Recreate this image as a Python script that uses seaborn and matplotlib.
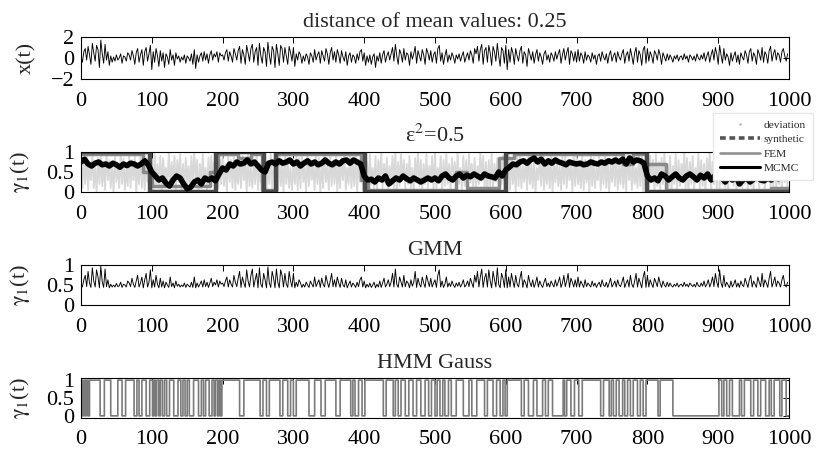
import numpy as np
import pandas as pd
import matplotlib
matplotlib.use("Agg")
import matplotlib.pyplot as plt
from matplotlib.lines import Line2D
import seaborn as sns

# ---- data ----
# x(t), sampled every 2 steps
x_t = [
    0.2,-0.4,0.6,0.9,-0.2,1.1,0.3,-0.6,1.4,0.5,-0.3,1.2,0.8,-0.9,1.7,0.4,-0.5,1.3,-0.2,0.6,-0.7,0.2,-0.4,0.1,-0.3,0.3,-0.2,0.0,0.4,-0.5,0.2,0.1,-0.3,0.5,0.3,-0.2,0.7,0.2,-0.6,0.5,0.9,-0.4,0.3,0.8,-0.7,0.6,1.0,-0.3,0.4,1.2,
    -1.1,0.6,-0.4,0.9,0.2,-0.8,0.7,-0.3,0.5,-0.9,0.4,0.1,-0.6,0.8,-0.2,0.3,-0.7,0.5,-0.1,0.2,-0.4,0.1,-0.2,0.3,-0.5,0.2,0.0,-0.3,0.4,-0.6,0.8,-1.0,0.3,-0.4,0.2,0.5,-0.3,0.6,-0.2,0.4,-0.5,0.3,0.7,-0.2,0.4,0.1,0.6,-0.4,0.5,0.2,
    0.3,-0.2,0.5,0.8,-0.3,0.6,0.2,-0.4,0.9,0.4,-0.2,0.7,1.1,-0.5,0.8,0.3,-0.6,1.2,0.5,-0.3,0.9,1.3,-0.4,0.6,1.0,-0.7,1.4,0.2,-0.5,1.0,0.6,-0.8,1.5,0.3,-0.6,1.1,0.7,-0.9,1.3,0.4,-0.7,1.2,0.9,-0.4,1.0,0.2,-0.6,1.1,0.5,-0.3,
    1.0,-0.8,0.4,-0.2,0.6,0.3,-0.5,0.2,-0.3,0.4,0.1,-0.6,0.5,0.2,-0.4,0.8,-0.2,0.3,0.6,-0.5,0.7,0.2,-0.3,0.9,0.4,-0.6,0.5,1.0,-0.2,0.6,-0.4,0.8,0.3,-0.5,0.7,0.1,-0.3,0.6,-0.7,0.2,0.5,-0.4,0.3,0.1,-0.5,0.4,-0.2,0.6,0.8,-0.3,
    0.5,-0.7,0.2,-0.4,0.3,-0.6,0.1,0.4,-0.9,0.2,-0.3,0.5,-0.5,0.3,0.7,-0.4,0.2,0.6,-0.2,0.4,1.0,-0.3,1.3,0.2,-0.6,0.8,0.4,-0.4,0.9,-0.2,0.5,0.3,-0.7,0.6,-0.1,0.4,1.1,-0.5,0.7,0.2,-0.3,0.8,0.3,-0.6,0.9,0.5,-0.2,0.7,-0.4,0.3,
    0.6,-0.5,0.9,1.2,-0.3,0.5,-0.6,0.2,0.8,-0.4,0.3,-0.2,0.5,0.1,-0.5,0.3,-0.1,0.4,-0.3,0.2,0.6,-0.4,0.1,0.5,-0.2,0.7,0.3,-0.5,0.9,0.4,1.1,-0.3,0.8,1.3,-0.6,0.7,1.0,-0.4,1.2,0.5,-0.7,1.1,0.6,-0.3,1.4,0.2,-0.8,1.0,0.7,-0.5,
    1.2,-1.1,0.8,-0.4,1.0,0.5,-0.6,0.9,0.2,-0.3,0.7,1.1,-0.5,0.6,0.3,-0.8,0.9,0.4,-0.2,0.6,-0.5,0.3,0.8,-0.3,0.5,0.1,-0.6,0.4,0.7,-0.2,0.3,-0.4,0.5,0.2,-0.3,0.6,-0.1,0.4,0.8,-0.5,0.3,0.9,-0.2,0.5,1.0,-0.6,0.7,0.4,-0.3,0.6,
    -0.4,0.8,-0.3,0.5,0.2,-0.5,0.6,-0.2,0.3,0.1,-0.4,0.5,-0.1,0.3,-0.6,0.2,0.4,-0.3,0.6,0.1,-0.2,0.4,-0.5,0.3,0.7,-0.3,0.2,0.5,-0.4,0.6,0.1,-0.2,0.4,0.8,-0.5,0.3,0.6,-0.3,0.9,0.2,-0.6,0.5,1.0,-0.4,0.7,0.3,-0.7,0.8,1.1,-0.5,
    0.9,-0.3,0.6,0.2,-0.5,0.7,0.4,-0.2,0.8,0.3,-0.6,0.5,0.1,-0.3,0.4,-0.2,0.3,0.0,-0.4,0.2,-0.1,0.3,-0.3,0.1,0.2,-0.2,0.4,-0.1,0.2,-0.4,0.3,0.1,-0.2,0.2,-0.3,0.4,0.0,-0.2,0.3,-0.1,0.5,-0.3,0.2,0.6,-0.4,0.3,0.8,-0.2,1.0,0.4,
    -0.6,1.2,0.3,-0.5,0.9,-0.2,0.4,0.1,-0.7,0.5,-0.3,0.2,0.6,-0.4,0.3,-0.6,0.5,0.1,-0.2,0.7,0.3,-0.5,0.6,0.9,-0.3,0.5,0.2,-0.6,0.8,0.4,-0.2,1.0,-0.4,0.6,0.3,-0.5,0.7,1.1,-0.3,0.4,0.8,-0.2,0.5,0.3,-0.4,0.6,0.9,0.2,-0.3,0.4,
]

# GMM gamma_1(t), every 2 steps
gmm = [
    .52,.45,.63,.74,.46,.84,.55,.44,.93,.6,.45,.88,.7,.43,.97,.58,.44,.9,.46,.63,.43,.52,.45,.5,.45,.54,.46,.48,.57,.44,.52,.5,.45,.6,.55,.46,.67,.52,.44,.6,.74,.45,.55,.7,.43,.63,.79,.45,.57,.88,
    .43,.63,.45,.74,.52,.43,.67,.45,.6,.43,.57,.5,.44,.7,.46,.55,.43,.6,.47,.52,.45,.5,.46,.55,.44,.52,.48,.45,.57,.44,.7,.43,.55,.45,.52,.6,.45,.63,.46,.57,.44,.55,.67,.46,.57,.5,.63,.45,.6,.52,
    .55,.46,.6,.7,.45,.63,.52,.45,.74,.57,.46,.67,.84,.44,.7,.55,.44,.88,.6,.45,.74,.9,.45,.63,.79,.43,.93,.52,.44,.79,.63,.43,.95,.55,.44,.84,.67,.43,.9,.57,.43,.88,.74,.45,.79,.52,.44,.84,.6,.45,
    .79,.43,.57,.46,.63,.55,.44,.52,.45,.57,.5,.44,.6,.52,.45,.7,.46,.55,.63,.44,.67,.52,.45,.74,.57,.44,.6,.79,.46,.63,.45,.7,.55,.44,.67,.5,.45,.63,.43,.52,.6,.45,.55,.5,.44,.57,.46,.63,.7,.45,
    .6,.43,.52,.45,.55,.44,.5,.57,.43,.52,.45,.6,.44,.55,.67,.45,.52,.63,.46,.57,.79,.45,.9,.52,.44,.7,.57,.45,.74,.46,.6,.55,.43,.63,.47,.57,.84,.44,.67,.52,.45,.7,.55,.44,.74,.6,.46,.67,.45,.55,
    .63,.44,.74,.88,.45,.6,.44,.52,.7,.45,.55,.46,.6,.5,.44,.55,.47,.57,.45,.52,.63,.45,.5,.6,.46,.67,.55,.44,.74,.57,.84,.45,.7,.9,.44,.67,.79,.45,.88,.6,.43,.84,.63,.45,.93,.52,.43,.79,.67,.44,
    .88,.43,.7,.45,.79,.6,.44,.74,.52,.45,.67,.84,.44,.63,.55,.43,.74,.57,.46,.63,.44,.55,.7,.45,.6,.5,.44,.57,.67,.46,.55,.45,.6,.52,.45,.63,.47,.57,.7,.44,.55,.74,.46,.6,.79,.44,.67,.57,.45,.63,
    .45,.7,.45,.6,.52,.44,.63,.46,.55,.5,.45,.6,.47,.55,.44,.52,.57,.45,.63,.5,.46,.57,.44,.55,.67,.45,.52,.6,.45,.63,.5,.46,.57,.7,.44,.55,.63,.45,.74,.52,.44,.6,.79,.45,.67,.55,.43,.7,.84,.44,
    .74,.45,.63,.52,.44,.67,.57,.46,.7,.55,.44,.6,.5,.45,.57,.46,.55,.48,.45,.52,.47,.55,.45,.5,.52,.46,.57,.47,.52,.45,.55,.5,.46,.52,.45,.57,.48,.46,.55,.47,.6,.45,.52,.63,.45,.55,.7,.46,.79,.57,
    .44,.88,.55,.44,.74,.46,.57,.5,.43,.6,.45,.52,.63,.45,.55,.44,.6,.5,.46,.67,.55,.44,.63,.74,.45,.6,.52,.44,.7,.57,.46,.79,.45,.63,.55,.44,.67,.84,.45,.57,.7,.46,.6,.55,.45,.63,.74,.52,.45,.57,
]

# deviation band (light grey), every 2 steps
deviation = [
    .9,.1,.8,.2,1,.05,.7,.3,.95,.1,.6,0,.85,.2,.9,.15,.75,.05,1,.3,.8,.1,.65,0,.9,.25,.7,.1,.95,.2,.85,.05,.6,.15,1,.1,.8,.3,.9,0,.7,.2,.95,.1,.75,.05,.85,.25,.9,.1,
    .8,.05,.95,.2,.7,.1,.9,0,.85,.3,.6,.15,1,.1,.75,.2,.9,.05,.8,.25,.95,0,.7,.1,.85,.2,.65,.05,.9,.15,1,.3,.8,0,.7,.1,.95,.2,.6,.05,.85,.15,.9,.25,.75,0,1,.1,.8,.2,
    .95,.15,.7,0,.9,.25,.8,.1,1,.05,.65,.2,.85,.1,.9,.3,.75,0,.95,.15,.6,.1,.8,.2,1,.05,.7,.25,.9,.1,.85,0,.75,.2,.95,.1,.65,.3,.8,.05,.9,.15,.7,0,1,.2,.85,.1,.6,.05,
    .7,.2,.9,.05,.85,.1,1,.25,.6,0,.95,.15,.8,.3,.7,.05,.9,.2,.85,0,.75,.1,.95,.25,.65,.05,1,.15,.8,.2,.9,0,.7,.1,.85,.3,.95,.05,.6,.2,1,.1,.75,.15,.9,0,.8,.25,.95,.05,
    .85,0,.75,.15,.95,.2,.6,.1,.9,.05,.8,.3,1,.1,.7,.2,.85,.05,.65,.25,.9,.1,1,0,.75,.15,.95,.3,.8,.05,.7,.2,.9,.1,.6,0,.85,.25,1,.15,.8,.05,.7,.2,.95,.1,.65,.3,.9,0,
    1,.1,.6,.25,.9,0,.8,.15,.95,.2,.7,.05,.85,.3,.75,.1,1,.2,.6,.05,.9,.15,.8,0,.95,.25,.7,.1,.85,.05,.65,.2,1,.3,.9,.1,.75,0,.8,.15,.95,.05,.7,.25,.85,.1,.6,.2,.9,.05,
    .75,.3,.95,.05,.85,.2,.7,0,1,.15,.9,.1,.65,.25,.8,.05,.95,.2,.7,.1,.85,0,.6,.3,.9,.15,1,.05,.75,.2,.8,.1,.95,0,.7,.25,.85,.15,.65,.05,.9,.2,1,.1,.8,.3,.7,0,.95,.15,
    .9,.2,.65,.1,.95,.05,.8,.25,.7,0,1,.15,.85,.1,.6,.3,.9,.05,.75,.2,.95,.1,.8,0,.7,.25,.85,.15,1,.05,.65,.2,.9,.1,.8,0,.95,.3,.75,.05,.85,.2,.6,.1,1,.15,.9,0,.7,.25,
    .6,.1,.9,.25,.8,0,.95,.15,.75,.05,.85,.2,1,.3,.7,.1,.9,0,.65,.2,.95,.05,.8,.15,.7,.3,1,.1,.85,0,.75,.2,.9,.05,.6,.25,.95,.1,.8,.15,.7,0,.85,.3,1,.05,.75,.2,.9,.1,
    .95,.05,.7,.2,.85,.1,1,0,.8,.25,.65,.15,.9,.05,.75,.3,.95,.1,.6,.2,.85,0,1,.15,.7,.05,.9,.25,.8,.1,.95,.2,.65,0,.85,.3,.75,.05,1,.15,.9,.1,.7,.2,.8,0,.95,.25,.6,.1,
]

# MCMC gamma_1(t), every 5 steps
mcmc = [
    .75,.82,.7,.65,.72,.75,.68,.7,.65,.72,.68,.62,.7,.66,.72,.7,.65,.7,.78,.68,
    .5,.4,.3,.35,.22,.15,.3,.4,.35,.2,.08,.12,.25,.3,.2,.35,.3,.35,.28,.45,
    .6,.55,.7,.65,.75,.7,.72,.8,.7,.75,.65,.55,.5,.72,.75,.7,.78,.72,.75,.8,
    .7,.75,.65,.72,.78,.7,.75,.68,.72,.8,.72,.68,.75,.7,.78,.8,.72,.8,.75,.7,
    .4,.3,.32,.25,.35,.3,.4,.2,.28,.35,.3,.4,.33,.28,.35,.3,.25,.3,.35,.3,
    .35,.28,.4,.45,.35,.3,.4,.45,.35,.42,.38,.45,.4,.35,.45,.4,.38,.35,.5,.4,
    .55,.62,.7,.68,.75,.78,.72,.8,.85,.75,.82,.7,.78,.72,.8,.75,.72,.68,.75,.72,
    .7,.72,.68,.7,.75,.72,.7,.75,.72,.78,.75,.8,.75,.82,.7,.85,.75,.8,.78,.72,
    .4,.3,.35,.28,.45,.4,.3,.38,.45,.35,.3,.4,.45,.38,.3,.42,.35,.45,.3,.4,
    .45,.35,.25,.38,.3,.4,.2,.3,.35,.25,.32,.4,.3,.28,.35,.3,.4,.33,.38,.35,
]

# step curves: change times and levels
syn_t = [0, 97, 191, 258, 275, 401, 600, 800, 1000]
syn_v = [1, 0, 1, 0, 1, 0, 1, 0, 0]
fem_t = [0, 88, 100, 182, 193, 222, 240, 256, 276, 396, 405, 530, 545, 590, 612, 766, 780, 798, 826, 975, 1000]
fem_v = [.95, .5, .15, .5, .95, .85, .95, .05, .95, .3, .05, .5, .1, .85, .95, .7, .95, .7, .05, .1, .1]

# HMM Gauss: intervals where gamma_1 = 1
hmm_high = [(0,2),(4,6),(8,10),(12,27),(33,42),(52,58),(63,75),(79,82),(86,92),(97,101),
            (103,105),(107,110),(112,115),(118,121),(125,131),(137,141),(144,147),(150,153),
            (159,166),(170,173),(176,181),(185,188),(190,193),(195,197),(199,224),(230,253),
            (257,262),(266,281),(285,292),(296,300),(304,322),(330,339),(345,360),(366,381),
            (384,387),(392,397),(401,427),(431,441),(444,448),(452,458),(463,469),(474,480),
            (486,491),(495,500),(503,507),(511,514),(519,523),(530,540),(548,552),(559,570),
            (574,582),(587,592),(596,599),(602,622),(626,632),(639,644),(652,656),(660,666),
            (681,683),(686,692),(697,703),(708,734),(738,746),(749,752),(756,760),(765,768),
            (772,776),(780,786),(790,794),(798,815),(818,836),(901,905),(908,912),(916,920),
            (930,933),(937,946),(950,956),(960,967),(972,975),(979,987),(990,996)]

titles = ["distance of mean values: 0.25", "\u03b5$^2$=0.5", "GMM", "HMM Gauss"]
ylabels = ["x(t)", r"$\mathrm{\gamma_1}$(t)", r"$\mathrm{\gamma_1}$(t)", r"$\mathrm{\gamma_1}$(t)"]
x_ticks = list(range(0, 1001, 100))

# ---- build frames ----
t2 = np.arange(0, 1000, 2)
t5 = np.arange(0, 1000, 5)
df_x = pd.DataFrame({"t": t2, "v": x_t})
df_gmm = pd.DataFrame({"t": t2, "v": gmm})
df_dev = pd.DataFrame({"t": t2, "v": deviation})
df_mcmc = pd.DataFrame({"t": t5, "v": mcmc})
df_syn = pd.DataFrame({"t": syn_t, "v": syn_v})
df_fem = pd.DataFrame({"t": fem_t, "v": fem_v})

hmm_state = np.zeros(1001)
for a, b in hmm_high:
    hmm_state[a:b] = 1
df_hmm = pd.DataFrame({"t": np.arange(1001), "v": hmm_state})

# ---- style ----
sns.set_theme(style="white")
plt.rcParams["font.family"] = ["Liberation Serif", "DejaVu Serif"]
plt.rcParams["mathtext.fontset"] = "stix"
plt.rcParams["axes.edgecolor"] = "black"
plt.rcParams["axes.linewidth"] = 0.8

fig = plt.figure(figsize=(8.29, 4.5), dpi=100)
W, H = 829, 450
left, right = 81, 789
tops = [37, 152, 265, 378]
bottoms = [79, 192, 305, 418]
axes = []
for top, bot in zip(tops, bottoms):
    axes.append(fig.add_axes([left / W, 1 - bot / H, (right - left) / W, (bot - top) / H]))

# panel 1
sns.lineplot(data=df_x, x="t", y="v", ax=axes[0], color="black", linewidth=0.65, estimator=None)
axes[0].set_ylim(-2, 2)
axes[0].set_yticks([-2, 0, 2])

# panel 2
ax = axes[1]
sns.lineplot(data=df_dev, x="t", y="v", ax=ax, color="#d8d8d8", linewidth=1.3, estimator=None)
sns.lineplot(data=df_fem, x="t", y="v", ax=ax, color="#8a8a8a", linewidth=2.5,
             drawstyle="steps-post", estimator=None)
sns.lineplot(data=df_syn, x="t", y="v", ax=ax, color="#4a4a4a", linewidth=3.2,
             drawstyle="steps-post", estimator=None)
sns.lineplot(data=df_mcmc, x="t", y="v", ax=ax, color="black", linewidth=4.0, estimator=None)

# panel 3
sns.lineplot(data=df_gmm, x="t", y="v", ax=axes[2], color="black", linewidth=0.65, estimator=None)

# panel 4
sns.lineplot(data=df_hmm, x="t", y="v", ax=axes[3], color="#7a7a7a", linewidth=1.2,
             drawstyle="steps-post", estimator=None)

for i, ax in enumerate(axes):
    ax.set_xlim(0, 1000)
    ax.set_xticks(x_ticks)
    if i > 0:
        ax.set_ylim(0, 1)
        ax.set_yticks([0, 0.5, 1])
        ax.set_yticklabels(["0", "0.5", "1"])
    ax.set_xlabel("")
    ax.set_ylabel(ylabels[i], fontsize=16, labelpad=10)
    ax.set_title(titles[i], fontsize=16, pad=7)
    ax.tick_params(direction="in", top=True, right=True, length=4, width=0.7,
                   labelsize=16, colors="black")
    ax.tick_params(axis="x", pad=9)
    ax.tick_params(axis="y", pad=5)
    for s in ax.spines.values():
        s.set_visible(True)
        s.set_color("black")
axes[3].set_ylim(-0.06, 1.06)

handles = [
    Line2D([], [], color="#c0c0c0", marker=".", linestyle="none", markersize=2),
    Line2D([], [], color="#555555", linewidth=2.6, dashes=(1.6, 1.0)),
    Line2D([], [], color="#8c8c8c", linewidth=1.8),
    Line2D([], [], color="black", linewidth=2.2),
]
fig.legend(handles, ["deviation", "synthetic", "FEM", "MCMC"], loc="upper left",
           bbox_to_anchor=(713 / W, 1 - 113 / H), borderaxespad=0, fontsize=8.2, frameon=True,
           fancybox=False, edgecolor="#e6e6e6", framealpha=1, handlelength=3.5,
           handletextpad=0.35, labelspacing=0.4, borderpad=0.6)

fig.savefig("out.png", dpi=100)
